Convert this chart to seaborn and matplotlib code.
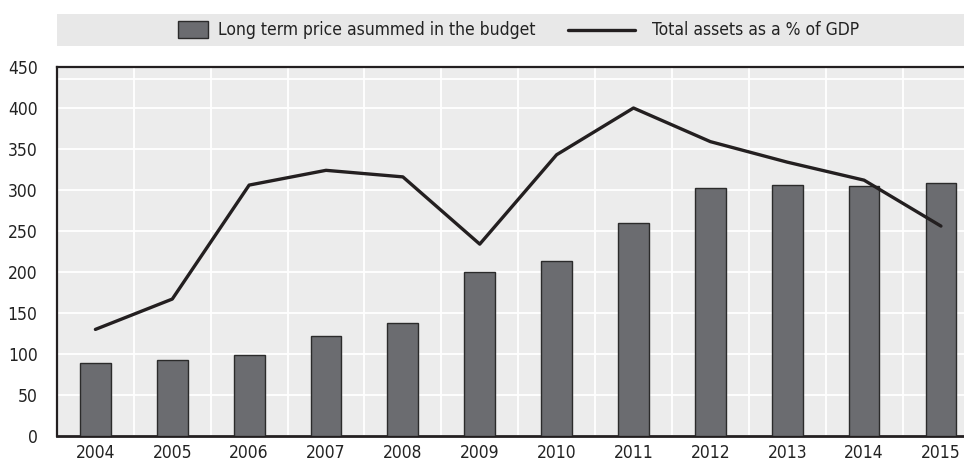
import numpy as np
import pandas as pd
import matplotlib
matplotlib.use("Agg")
import matplotlib.pyplot as plt
from matplotlib.patches import Rectangle
from matplotlib.lines import Line2D
import seaborn as sns

years = ["2004", "2005", "2006", "2007", "2008", "2009",
         "2010", "2011", "2012", "2013", "2014", "2015"]
long_term_price = [89, 93, 99, 122, 138, 200, 213, 260, 303, 306, 305, 308]
total_assets_pct_gdp = [130, 167, 306, 324, 316, 234, 343, 400, 359, 334, 312, 256]
y_ticks = [0, 50, 100, 150, 200, 250, 300, 350, 400, 450]

bar_label = "Long term price asummed in the budget"
line_label = "Total assets as a % of GDP"

df = pd.DataFrame({
    "year": years,
    "pos": np.arange(len(years)),
    "price": long_term_price,
    "assets": total_assets_pct_gdp,
})

sns.set_style("white")
# condensed face to get close to the narrow font of the original
plt.rcParams["font.family"] = ["DejaVu Sans"]
plt.rcParams["font.stretch"] = "condensed"

fig = plt.figure(figsize=(9.64, 4.67), dpi=100)
ax = fig.add_axes([0.0591, 0.0664, 0.9409, 0.7901])
ax.set_facecolor("#ececec")

sns.barplot(data=df, x="year", y="price", ax=ax, color="#6b6c70",
            width=0.4, edgecolor="#2b2b2b", linewidth=1.0, saturation=1,
            zorder=3)
sns.lineplot(data=df, x="pos", y="assets", ax=ax, color="#231f20",
             linewidth=2.4, zorder=4)

ax.set_xlabel("")
ax.set_ylabel("")

# gridlines: horizontal at y ticks, vertical between categories
ax.set_yticks(y_ticks)
ax.set_xticks(np.arange(len(years)))
ax.set_xticklabels(years)
ax.set_xticks(np.arange(len(years)) + 0.5, minor=True)
ax.grid(axis="y", which="major", color="white", linewidth=1.3, zorder=1)
ax.grid(axis="x", which="minor", color="white", linewidth=1.3, zorder=1)
ax.grid(axis="x", which="major", visible=False)
ax.axhline(435, color="white", linewidth=1.3, zorder=1)
ax.set_axisbelow(True)

# limits last: set_xticks would widen them otherwise
ax.set_xlim(-0.5, 11.3)
ax.set_ylim(0, 450)

ax.tick_params(axis="x", which="major", length=0, pad=6, labelsize=12.5,
               colors="#222222")
ax.tick_params(axis="x", which="minor", direction="in", length=7,
               width=1.2, color="#888888")
ax.tick_params(axis="y", direction="in", length=7, width=1.2,
               color="#888888", labelcolor="#222222", labelsize=12.5, pad=14)

for side in ["left", "bottom", "top"]:
    ax.spines[side].set_visible(True)
    ax.spines[side].set_color("#231f20")
ax.spines["left"].set_linewidth(1.6)
ax.spines["bottom"].set_linewidth(2.0)
ax.spines["top"].set_linewidth(1.6)
ax.spines["right"].set_visible(False)

# legend strip, laid out in figure pixels
W, H = 964, 467
fig.patches.append(Rectangle((57 / W, 1 - 46 / H), 907 / W, 32 / H,
                             transform=fig.transFigure, facecolor="#e8e8e8",
                             edgecolor="none", zorder=0))
fig.patches.append(Rectangle((178 / W, 1 - 38 / H), 30 / W, 17 / H,
                             transform=fig.transFigure, facecolor="#6b6c70",
                             edgecolor="#2b2b2b", linewidth=1.0, zorder=2))
fig.lines.append(Line2D([568 / W, 635 / W], [1 - 30 / H, 1 - 30 / H],
                        transform=fig.transFigure, color="#231f20",
                        linewidth=2.4))
fig.text(218 / W, 1 - 30 / H, bar_label, fontsize=12.5, va="center",
         color="#222222")
fig.text(652 / W, 1 - 30 / H, line_label, fontsize=12.5, va="center",
         color="#222222")

fig.savefig("out.png", dpi=100)
